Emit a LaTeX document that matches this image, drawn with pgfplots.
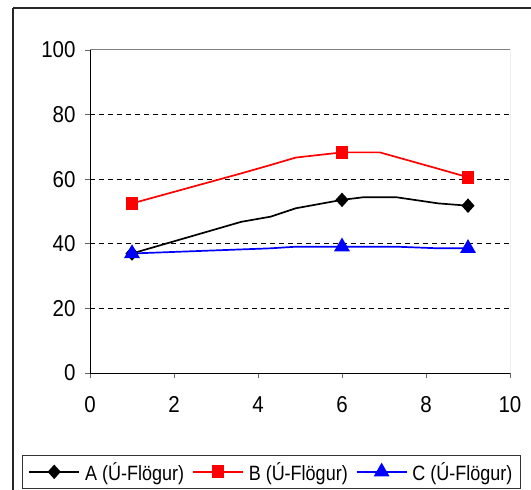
\documentclass[border=0pt]{standalone}
\usepackage{pgfplots}
\pgfplotsset{compat=1.18}
\usepackage{fontspec}
\setmainfont{Liberation Sans}
\begin{document}
\begin{tikzpicture}[x=1pt,y=1pt]
\useasboundingbox (0,0) rectangle (531,490);
\clip (0,0) rectangle (531,490);
\draw[line width=1.3pt,black!85] (13,482) -- (560,482) (13,482) -- (13,-20);
\begin{axis}[
  at={(90pt,117pt)}, anchor=south west,
  scale only axis, width=420pt, height=323pt,
  xmin=0, xmax=10, ymin=0, ymax=100,
  axis x line*=bottom, axis y line*=left,
  axis line style={black, line width=0.9pt, -},
  xtick={0,2,...,10}, ytick={0,20,...,100},
  tick align=outside, major tick length=5pt,
  tick style={gray!80!black, line width=0.9pt},
  extra y ticks={20,40,60,80}, extra y tick labels={},
  extra y tick style={grid=major, major tick length=0pt},
  grid style={black, dashed, dash pattern=on 5pt off 4pt, line width=0.8pt},
  /pgf/number format/assume math mode=true,
  xticklabel={\scalebox{1}[1.12]{\pgfmathprintnumber{\tick}}},
  yticklabel={\scalebox{1}[1.12]{\pgfmathprintnumber{\tick}}},
  tick label style={font=\fontsize{20.5}{23}\selectfont, black},
  yticklabel style={xshift=-6pt},
  xticklabel style={yshift=-15pt},
  legend style={at={(-0.162,-0.359)}, anchor=south west,
    draw=black!80, line width=0.8pt, legend columns=3,
    font=\fontsize{18}{22}\selectfont, inner xsep=6pt, inner ysep=5pt,
    /tikz/every odd column/.append style={column sep=3pt},
    /tikz/every even column/.append style={column sep=6pt}},
  legend image code/.code={\draw[#1, line width=1.7pt, mark indices={2}] plot coordinates {(0pt,0pt) (25pt,0pt) (50pt,0pt)};},
]
\addplot[black, line width=1.7pt, mark=diamond*, mark size=6pt, mark options={xscale=1.2, solid}, mark indices={1,5,9}]
 coordinates {(1,37.0)(3.6,46.8)(4.3,48.4)(4.9,51.0)(6,53.6)(6.5,54.4)(7.3,54.4)(8.3,52.5)(9,51.8)};
\addlegendentry{\scalebox{1}[1.15]{A (Ú-Flögur)}}
\addplot[red, line width=1.7pt, mark=square*, mark size=5.5pt, mark options={solid}, mark indices={1,5,8}]
 coordinates {(1,52.5)(3.6,61.8)(4.3,64.4)(4.9,66.7)(6,68.3)(6.9,68.3)(8.3,63.2)(9,60.6)};
\addlegendentry{\scalebox{1}[1.15]{B (Ú-Flögur)}}
\addplot[blue, line width=1.7pt, mark=triangle*, mark size=7.5pt, mark options={solid}, mark indices={1,4,7}]
 coordinates {(1,37.0)(4.3,38.6)(4.9,39.1)(6,39.1)(7.3,39.1)(8.3,38.6)(9,38.6)};
\addlegendentry{\scalebox{1}[1.15]{C (Ú-Flögur)}}
\draw[gray, line width=1pt] (rel axis cs:0,1) -- (rel axis cs:1,1) -- (rel axis cs:1,0);
\end{axis}
\end{tikzpicture}
\end{document}
